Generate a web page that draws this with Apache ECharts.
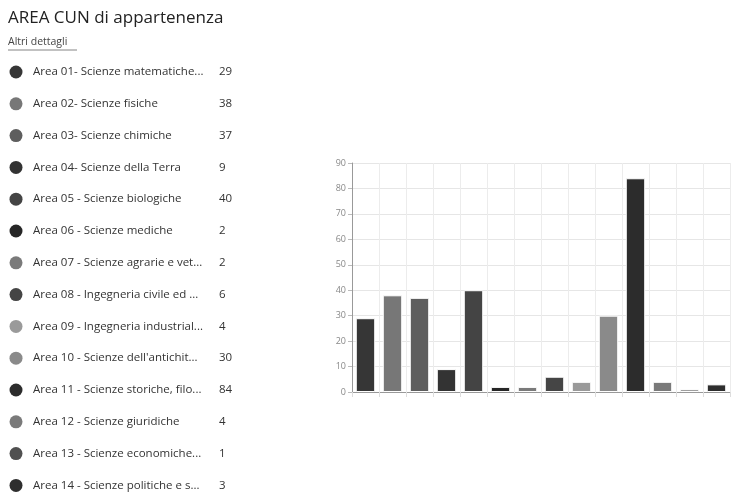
<!DOCTYPE html>
<html>
<head>
<meta charset="utf-8">
<script src="https://cdn.jsdelivr.net/npm/echarts@6/dist/echarts.min.js"></script>
<style>
  html, body { margin: 0; padding: 0; background: #fff; }
  #chart { width: 742px; height: 500px; }
</style>
</head>
<body>
<div id="chart"></div>
<script>
// Areas as shown in the list (long names are truncated for display)
const areaLabels = [
  'Area 01- Scienze matematiche...',
  'Area 02- Scienze fisiche',
  'Area 03- Scienze chimiche',
  'Area 04- Scienze della Terra',
  'Area 05 - Scienze biologiche',
  'Area 06 - Scienze mediche',
  'Area 07 - Scienze agrarie e vet...',
  'Area 08 - Ingegneria civile ed ...',
  'Area 09 - Ingegneria industrial...',
  'Area 10 - Scienze dell\'antichit...',
  'Area 11 - Scienze storiche, filo...',
  'Area 12 - Scienze giuridiche',
  'Area 13 - Scienze economiche...',
  'Area 14 - Scienze politiche e s...'
];
const areaCodes = ['01','02','03','04','05','06','07','08','09','10','11','12','13','14'];
const counts = [29, 38, 37, 9, 40, 2, 2, 6, 4, 30, 84, 4, 1, 3];
const areaColors = ['#363636','#777777','#5e5e5e','#333333','#444444','#262626','#7a7a7a',
                    '#454545','#9a9a9a','#8a8a8a','#2c2c2c','#7a7a7a','#505050','#2e2e2e'];

const chart = echarts.init(document.getElementById('chart'));

// Left-hand list: coloured dot, area name, count
const listItems = [];
areaLabels.forEach((name, i) => {
  const y = 72 + i * 31.8;
  listItems.push({
    type: 'circle', shape: { cx: 16, cy: y, r: 6.5 },
    style: { fill: areaColors[i] }
  });
  listItems.push({
    type: 'text', x: 33, y: y, style: {
      text: name, fill: '#333', font: '11.5px "Open Sans", sans-serif',
      verticalAlign: 'middle'
    }
  });
  listItems.push({
    type: 'text', x: 219, y: y, style: {
      text: String(counts[i]), fill: '#333', font: '11.5px "Open Sans", sans-serif',
      verticalAlign: 'middle'
    }
  });
});

chart.setOption({
  backgroundColor: '#fff',
  animation: false,
  title: {
    text: 'AREA CUN di appartenenza',
    left: 3, top: 5,
    textStyle: { fontFamily: '"Open Sans", sans-serif', fontSize: 17, fontWeight: 'normal', color: '#222' }
  },
  graphic: [
    { type: 'text', x: 8, y: 37, style: {
        text: 'Altri dettagli', fill: '#444', font: '10.5px "Open Sans", sans-serif' } },
    { type: 'line', shape: { x1: 8, y1: 50, x2: 77, y2: 50 },
      style: { stroke: '#666', lineWidth: 0.8 } }
  ].concat(listItems),
  grid: { left: 352, right: 12, top: 163, bottom: 108 },
  xAxis: {
    type: 'category',
    data: areaCodes,
    axisLine: { lineStyle: { color: '#999' } },
    axisTick: { show: true, lineStyle: { color: '#ddd' } },
    axisLabel: { show: false },
    splitLine: { show: true, lineStyle: { color: '#ececec' } }
  },
  yAxis: {
    type: 'value',
    min: 0, max: 90, interval: 10,
    axisLine: { show: true, lineStyle: { color: '#999' } },
    axisTick: { show: true, length: 4, lineStyle: { color: '#bbb' } },
    axisLabel: { color: '#888', fontSize: 9, fontFamily: '"Open Sans", sans-serif', margin: 6 },
    splitLine: { lineStyle: { color: '#e6e6e6' } }
  },
  series: [{
    type: 'bar',
    barWidth: '72%',
    data: counts.map((v, i) => ({ value: v, itemStyle: { color: areaColors[i] } })),
    itemStyle: { borderColor: '#fff', borderWidth: 1 }
  }]
});
</script>
</body>
</html>
